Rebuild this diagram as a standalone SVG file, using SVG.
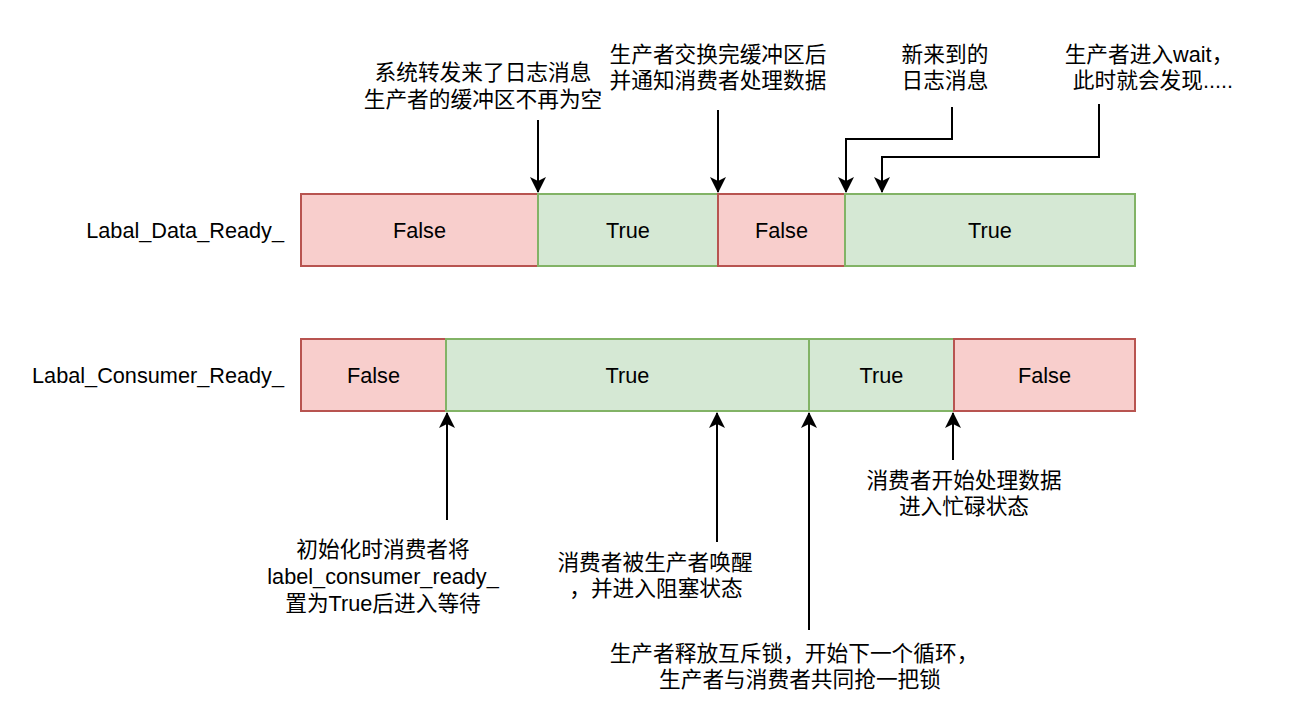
<svg xmlns="http://www.w3.org/2000/svg" width="1306" height="716" viewBox="0 0 1306 716">
<style>
text{font-family:"Liberation Sans","Noto Sans CJK SC",Arial,sans-serif;font-size:21.7px;fill:#000;dominant-baseline:central}
.m{text-anchor:middle}
.r{text-anchor:end}
.f{fill:#f8cecc;stroke:#b85450;stroke-width:2}
.t{fill:#d5e8d4;stroke:#82b366;stroke-width:2}
.c{fill:none;stroke:#000;stroke-width:2}
</style>
<defs>
<marker id="ah" markerUnits="userSpaceOnUse" markerWidth="16" markerHeight="18" refX="15" refY="8" orient="auto" viewBox="0 0 16 16">
<path d="M0,0 L16,8 L0,16 L4,8 Z" fill="#000"/>
</marker>
</defs>
<rect width="1306" height="716" fill="#fff"/>
<g id="row-labels">
<text class="r" x="284" y="230">Labal_Data_Ready_</text>
<text class="r" x="284" y="375">Labal_Consumer_Ready_</text>
</g>
<g id="data-false-1"><rect class="f" x="301" y="194" width="237" height="72"/><text class="m" x="419.5" y="230">False</text></g>
<g id="data-true-1"><rect class="t" x="538" y="194" width="180" height="72"/><text class="m" x="628" y="230">True</text></g>
<g id="data-false-2"><rect class="f" x="718" y="194" width="127" height="72"/><text class="m" x="781.5" y="230">False</text></g>
<g id="data-true-2"><rect class="t" x="845" y="194" width="290" height="72"/><text class="m" x="990" y="230">True</text></g>
<g id="cons-false-1"><rect class="f" x="301" y="339" width="145" height="72"/><text class="m" x="373.5" y="375">False</text></g>
<g id="cons-true-1"><rect class="t" x="446" y="339" width="363" height="72"/><text class="m" x="627.5" y="375">True</text></g>
<g id="cons-true-2"><rect class="t" x="809" y="339" width="145" height="72"/><text class="m" x="881.5" y="375">True</text></g>
<g id="cons-false-2"><rect class="f" x="954" y="339" width="181" height="72"/><text class="m" x="1044.5" y="375">False</text></g>
<g id="connectors">
<path class="c" d="M538,120 V192" marker-end="url(#ah)"/>
<path class="c" d="M718,110 V192" marker-end="url(#ah)"/>
<path class="c" d="M952,107 V139 H846 V192" marker-end="url(#ah)"/>
<path class="c" d="M1099,104 V157 H882 V192" marker-end="url(#ah)"/>
<path class="c" d="M447,520 V413" marker-end="url(#ah)"/>
<path class="c" d="M717,542 V413" marker-end="url(#ah)"/>
<path class="c" d="M809,630 V413" marker-end="url(#ah)"/>
<path class="c" d="M953,460 V413" marker-end="url(#ah)"/>
</g>
<g id="note-1"><text class="m" x="483" y="72">系统转发来了日志消息</text><text class="m" x="483" y="99">生产者的缓冲区不再为空</text></g>
<g id="note-2"><text class="m" x="718" y="54">生产者交换完缓冲区后</text><text class="m" x="718" y="80">并通知消费者处理数据</text></g>
<g id="note-3"><text class="m" x="945" y="54">新来到的</text><text class="m" x="945" y="80">日志消息</text></g>
<g id="note-4"><text class="m" x="1149" y="54">生产者进入wait，</text><text class="m" x="1153" y="80">此时就会发现.....</text></g>
<g id="note-5"><text class="m" x="383" y="549">初始化时消费者将</text><text class="m" x="383" y="576">label_consumer_ready_</text><text class="m" x="383" y="603">置为True后进入等待</text></g>
<g id="note-6"><text class="m" x="655" y="562">消费者被生产者唤醒</text><text class="m" x="656" y="588">，并进入阻塞状态</text></g>
<g id="note-7"><text class="m" x="794" y="653">生产者释放互斥锁，开始下一个循环，</text><text class="m" x="800" y="679">生产者与消费者共同抢一把锁</text></g>
<g id="note-8"><text class="m" x="964" y="480">消费者开始处理数据</text><text class="m" x="964" y="506">进入忙碌状态</text></g>
</svg>
